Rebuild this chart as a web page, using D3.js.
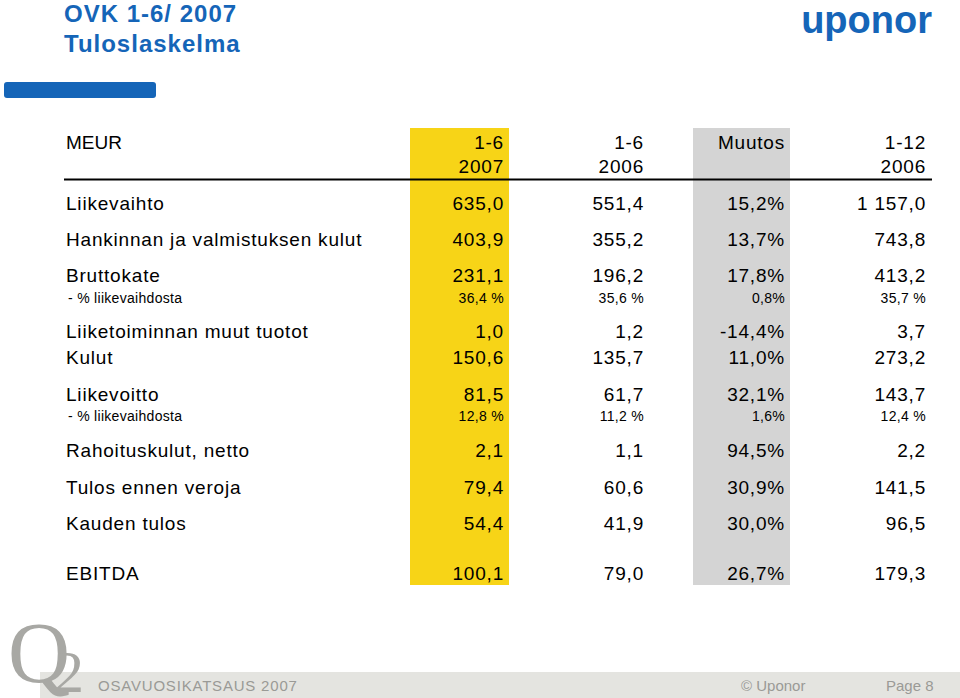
<!DOCTYPE html>
<html><head><meta charset="utf-8">
<script src="https://cdn.jsdelivr.net/npm/d3@7"></script>
<style>body{margin:0;background:#fff}svg{display:block}</style></head>
<body><svg id="c" width="960" height="698"></svg>
<script>
const labels=["Liikevaihto","Hankinnan ja valmistuksen kulut","Bruttokate","- % liikevaihdosta","Liiketoiminnan muut tuotot","Kulut","Liikevoitto","- % liikevaihdosta","Rahoituskulut, netto","Tulos ennen veroja","Kauden tulos","EBITDA"];
const h1_2007=["635,0","403,9","231,1","36,4 %","1,0","150,6","81,5","12,8 %","2,1","79,4","54,4","100,1"];
const h1_2006=["551,4","355,2","196,2","35,6 %","1,2","135,7","61,7","11,2 %","1,1","60,6","41,9","79,0"];
const muutos=["15,2%","13,7%","17,8%","0,8%","-14,4%","11,0%","32,1%","1,6%","94,5%","30,9%","30,0%","26,7%"];
const fy2006=["1 157,0","743,8","413,2","35,7 %","3,7","273,2","143,7","12,4 %","2,2","141,5","96,5","179,3"];
const subRow=[false,false,false,true,false,false,false,true,false,false,false,false];
const headers=[["1-6","2007"],["1-6","2006"],["Muutos",""],["1-12","2006"]];

const svg=d3.select("#c");
const F="'Liberation Sans',Arial,sans-serif";
const N="'Liberation Sans Narrow','Liberation Sans',sans-serif";
const blue="#1565b8";
svg.append("text").attr("x",64).attr("y",22).attr("fill",blue).attr("font-family",N).attr("font-weight","bold").attr("font-size",24).attr("letter-spacing",1).text("OVK 1-6/ 2007");
svg.append("text").attr("x",64).attr("y",52).attr("fill",blue).attr("font-family",N).attr("font-weight","bold").attr("font-size",24).attr("letter-spacing",1).text("Tuloslaskelma");
svg.append("text").attr("x",932).attr("y",33).attr("text-anchor","end").attr("fill",blue).attr("font-family",N).attr("font-weight","bold").attr("font-size",38).text("uponor");
svg.append("rect").attr("x",4).attr("y",82).attr("width",152).attr("height",16).attr("rx",3).attr("fill",blue);

const colRight=[504,644,785,926];
const yPos=[203,239,275,298,331,357,394,416,450,487,523,573];
svg.append("rect").attr("x",410).attr("y",128).attr("width",99).attr("height",457).attr("fill","#f7d417");
svg.append("rect").attr("x",693).attr("y",128).attr("width",97).attr("height",457).attr("fill","#d4d4d4");
svg.append("line").attr("x1",64).attr("x2",932).attr("y1",179.5).attr("y2",179.5).attr("stroke","#000").attr("stroke-width",2);

const T=svg.append("g").attr("font-family",F).attr("fill","#000");
T.append("text").attr("x",66).attr("y",149).attr("font-size",19).text("MEUR");
headers.forEach((h,i)=>{
  T.append("text").attr("x",colRight[i]).attr("y",149).attr("text-anchor","end").attr("font-size",19).attr("letter-spacing",0.8).text(h[0]);
  if(h[1])T.append("text").attr("x",colRight[i]).attr("y",173).attr("text-anchor","end").attr("font-size",19).attr("letter-spacing",0.8).text(h[1]);
});
const cols=[h1_2007,h1_2006,muutos,fy2006];
labels.forEach((l,r)=>{
  const fs=subRow[r]?14:19, yy=yPos[r]+(subRow[r]?5:7);
  T.append("text").attr("x",subRow[r]?68:66).attr("y",yy).attr("font-size",fs).attr("letter-spacing",subRow[r]?0.3:0.8).text(l);
  cols.forEach((c,i)=>T.append("text").attr("x",colRight[i]).attr("y",yy).attr("text-anchor","end").attr("font-size",fs).attr("letter-spacing",subRow[r]?0.3:0.8).text(c[r]));
});

svg.append("rect").attr("x",40).attr("y",672).attr("width",920).attr("height",26).attr("fill","#e4e4e0");
svg.append("text").attr("x",8).attr("y",682).attr("font-family","'Liberation Serif',serif").attr("font-size",86).attr("fill","#a8a8a4").text("Q");
svg.append("text").attr("x",54).attr("y",692).attr("font-family","'Liberation Serif',serif").attr("font-size",60).attr("fill","#a8a8a4").text("2");
const ft=svg.append("g").attr("font-family",N).attr("font-size",15).attr("fill","#9a9a96");
ft.append("text").attr("x",98).attr("y",691).attr("letter-spacing",0.8).text("OSAVUOSIKATSAUS 2007");
ft.append("text").attr("x",741).attr("y",691).text("© Uponor");
ft.append("text").attr("x",886).attr("y",691).text("Page 8");
</script></body></html>
